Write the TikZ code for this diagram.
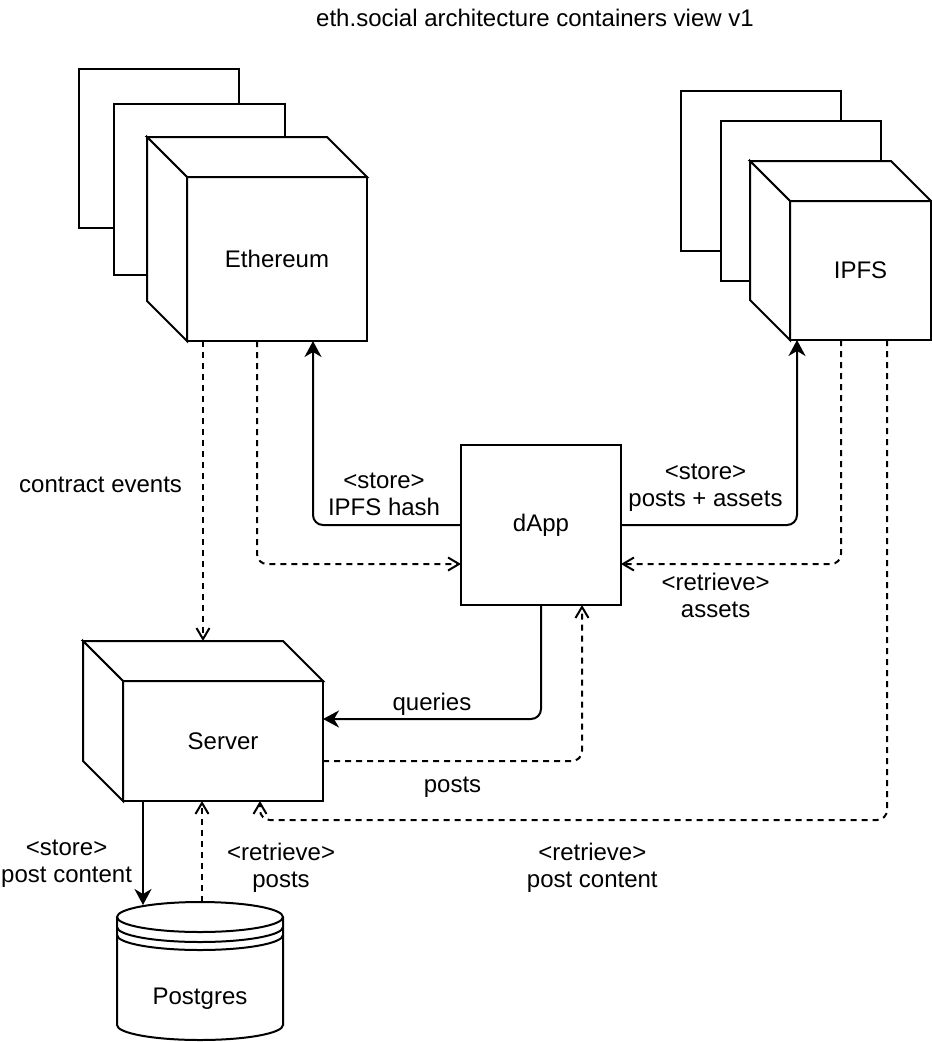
\documentclass[tikz,border=0pt]{standalone}
\usepackage{fontspec}
\setmainfont{Liberation Sans}
\usetikzlibrary{positioning, calc, arrows.meta}

\begin{document}
\begin{tikzpicture}[x=1pt, y=-1pt,
    every node/.style={font=\fontsize{24}{27}\selectfont},
    face/.style={draw, line width=2pt, fill=white},
    box/.style={face, inner sep=0pt, outer sep=0pt},
    lbl/.style={align=center, inner sep=0pt},
    flow/.style={line width=2pt, rounded corners=10pt, -{Stealth[length=16pt, width=17pt, inset=5pt]}},
    dflow/.style={line width=2pt, rounded corners=10pt, dash pattern=on 6pt off 5pt, -{Straight Barb[length=11pt, width=13pt]}}]
   \useasboundingbox (0,0) rectangle (932,1042);

   % Drawing goes here
   \node (title) at (535,18) {eth.social architecture containers view v1};

   % replicas behind the cubes
   \draw[face] (79,69) rectangle (239,228);
   \draw[face] (114,104) rectangle (285,275);
   \draw[face] (681,91) rectangle (841,251);
   \draw[face] (721,121) rectangle (881,281);

   \node[box, minimum width=180pt, minimum height=164pt] (eth) at (277,259) {Ethereum};
   \node[box, minimum width=141pt, minimum height=139pt] (ipfs) at (860.5,270.5) {IPFS};
   \node[box, minimum width=200pt, minimum height=120pt] (srv) at (223,741) {Server};
   \node[box, minimum width=160pt, minimum height=160pt] (dapp) at (541,525) {dApp};

   % top and left faces of the cubes
   \foreach \c in {eth, ipfs, srv} {
      \draw[face] (\c.north west) -- ++(-40,-40) -- ($(\c.north east)+(-40,-40)$) -- (\c.north east) -- cycle;
      \draw[face] (\c.north west) -- ++(-40,-40) -- ($(\c.south west)+(-40,-40)$) -- (\c.south west) -- cycle;
   }

   % database
   \coordinate (pgtop) at (200,902);
   \draw[face] (117,917) -- (117,1025) arc[start angle=180, end angle=360, x radius=83pt, y radius=15pt] -- (283,917);
   \draw[face] (200,917) ellipse [x radius=83pt, y radius=15pt];
   \draw[line width=2pt] (117,927) arc[start angle=180, end angle=360, x radius=83pt, y radius=15pt];
   \draw[line width=2pt] (117,935) arc[start angle=180, end angle=360, x radius=83pt, y radius=15pt];
   \node (pg) at (200,999) {Postgres};

   % Connect the containers
   \draw[flow] (dapp.west) -| node[lbl, pos=0.26, above=8pt] {<store>\\IPFS hash} ($(eth.south)+(36,0)$);
   \draw[dflow] ($(eth.south)+(-20,0)$) |- ($(dapp.west)+(0,39)$);
   \draw[dflow] ($(eth.south)+(-74,0)$) -- node[lbl, pos=0.48, left=20pt] {contract events} ($(srv.north)+(-20,-40)$);
   \draw[flow] (dapp.east) -| node[lbl, pos=0.24, above=13pt] {<store>\\posts + assets} ($(ipfs.south)+(-63.5,0)$);
   \draw[dflow] ($(ipfs.south)+(-19.5,0)$) |- node[lbl, pos=0.785, below=8pt] {<retrieve>\\assets} ($(dapp.east)+(0,39)$);
   \draw[dflow] ($(ipfs.south)+(26.5,0)$) |- node[lbl, pos=0.735, below=22pt] {<retrieve>\\post content} ($(srv.south)+(37,19)$) -- ($(srv.south)+(37,0)$);
   \draw[flow] (dapp.south) |- node[lbl, pos=0.75, above=3pt] {queries} ($(srv.east)+(0,-22)$);
   \draw[dflow] ($(srv.east)+(0,20)$) -| node[lbl, pos=0.25, below=15pt] {posts} ($(dapp.south)+(41,0)$);
   \draw[flow] ($(srv.south)+(-80,0)$) -- node[lbl, pos=0.6, left=10pt] {<store>\\post content} ($(pgtop)+(-57,3)$);
   \draw[dflow] ($(pgtop)+(2,0)$) -- node[lbl, pos=0.34, right=24pt] {<retrieve>\\posts} ($(srv.south)+(-21,0)$);

\end{tikzpicture}
\end{document}
